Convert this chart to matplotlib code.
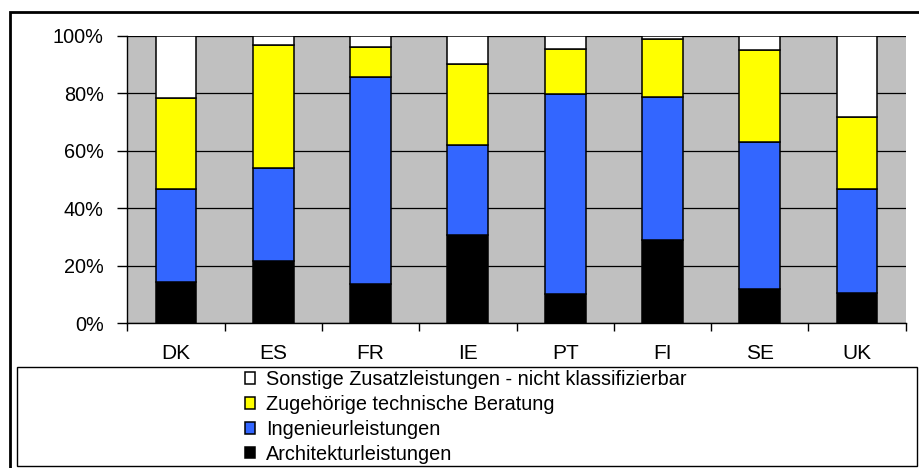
import matplotlib
matplotlib.use("Agg")
import matplotlib.pyplot as plt
from matplotlib.patches import Rectangle
import numpy as np

plt.rcParams['font.family'] = ['Liberation Sans', 'DejaVu Sans']

countries = ['DK', 'ES', 'FR', 'IE', 'PT', 'FI', 'SE', 'UK']
architektur = [14.5, 21.8, 13.7, 30.7, 10.1, 29.0, 11.9, 10.4]
ingenieur = [32.2, 32.3, 71.9, 31.4, 69.6, 49.8, 51.1, 36.3]
beratung = [31.6, 42.7, 10.4, 28.1, 15.6, 20.2, 32.0, 24.9]
sonstige = [21.7, 3.2, 4.0, 9.8, 4.7, 1.0, 5.0, 28.4]

labels = ['Architekturleistungen', 'Ingenieurleistungen',
          'Zugehörige technische Beratung',
          'Sonstige Zusatzleistungen - nicht klassifizierbar']
colors = ['#000000', '#3366FF', '#FFFF00', '#FFFFFF']

W, H = 919, 468
fig = plt.figure(figsize=(W / 100, H / 100), dpi=100)
ax = fig.add_axes([127.3 / W, 1 - 323.3 / H, (905.7 - 127.3) / W, (323.3 - 35.7) / H])
ax.set_facecolor('#C0C0C0')

x = np.arange(len(countries))
bottom = np.zeros(len(countries))
handles = []
for vals, col, lab in zip([architektur, ingenieur, beratung, sonstige], colors, labels):
    b = ax.bar(x, vals, 0.42, bottom=bottom, color=col, edgecolor='black',
               linewidth=1.1, label=lab, zorder=3)
    handles.append(b)
    bottom += np.array(vals)

fs = 14.3
ax.set_xlim(-0.5, 7.5)
ax.set_ylim(0, 100)
ax.set_yticks(range(0, 101, 20))
ax.set_yticklabels([f'{v}%' for v in range(0, 101, 20)], fontsize=fs)
ax.yaxis.grid(True, color='black', linewidth=0.9, zorder=1)
ax.set_xticks(np.arange(-0.5, 8, 1))
ax.set_xticklabels([])
ax.set_xticks(x, minor=True)
ax.set_xticklabels(countries, minor=True, fontsize=15)
ax.tick_params(axis='x', which='major', length=6, direction='out', width=1)
ax.tick_params(axis='x', which='minor', length=0, pad=15)
ax.tick_params(axis='y', length=7, width=1, pad=10)
for s in ['top', 'right']:
    ax.spines[s].set_visible(False)
ax.spines['left'].set_linewidth(1)
ax.spines['bottom'].set_linewidth(1)

# legend box
fig.patches.append(Rectangle((16.7 / W, 1 - 465.7 / H), (917 - 16.7) / W, (465.7 - 366.7) / H,
                             transform=fig.transFigure, fill=False, edgecolor='black',
                             linewidth=1))
fig.legend(handles[::-1], labels[::-1], loc='upper left',
           bbox_to_anchor=(245 / W, 1 - 370 / H), frameon=False, fontsize=fs,
           handlelength=0.5, handleheight=0.5, handletextpad=0.55,
           labelspacing=0.3, borderaxespad=0, borderpad=0)

# outer frame
fig.patches.append(Rectangle((9.5 / W, -0.1), 1.1, 1.1 - 12 / H,
                             transform=fig.transFigure, fill=False, edgecolor='black',
                             linewidth=2, clip_on=False))

fig.savefig('out.png', dpi=100)
